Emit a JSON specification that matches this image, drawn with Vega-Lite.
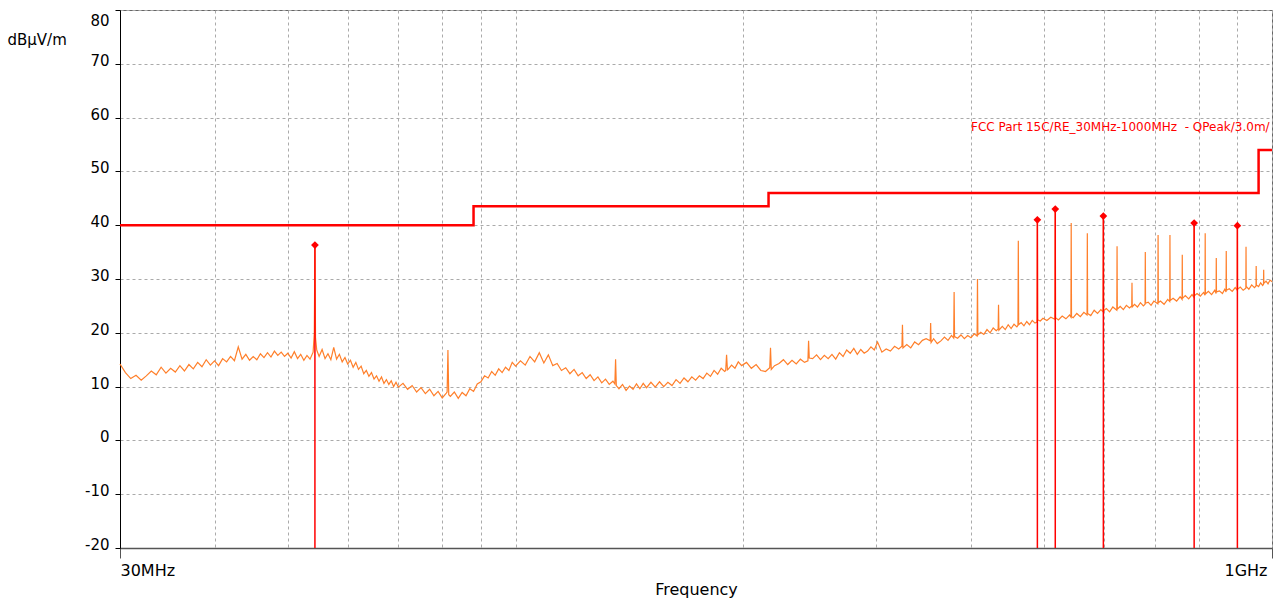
{
  "$schema": "https://vega.github.io/schema/vega-lite/v6.json",
  "width": 1152,
  "height": 538,
  "autosize": {"type": "none"},
  "padding": {"left": 120, "top": 10, "right": 8, "bottom": 51},
  "background": "white",
  "config": {"font": "DejaVu Sans", "view": {"stroke": "#666", "strokeWidth": 1}},
  "datasets": {
    "noise": [
      {"f":30,"v":14.2},{"f":30.5,"v":12.6},{"f":31,"v":11.5},{"f":31.5,"v":12.1},{"f":32,"v":11.2},{"f":32.5,"v":12.0},{"f":33,"v":12.9},{"f":33.5,"v":12.2},{"f":34,"v":13.6},{"f":34.5,"v":12.5},{"f":35,"v":13.4},{"f":35.5,"v":12.7},{"f":36,"v":13.9},{"f":36.5,"v":12.9},{"f":37,"v":14.1},{"f":37.5,"v":13.3},{"f":38,"v":14.5},{"f":38.5,"v":13.7},{"f":39,"v":15.0},{"f":39.5,"v":14.0},{"f":40,"v":14.8},{"f":40.5,"v":13.9},{"f":41,"v":15.2},{"f":41.5,"v":14.6},{"f":42,"v":15.6},{"f":42.5,"v":14.8},{"f":43,"v":17.4},{"f":43.5,"v":15.1},{"f":44,"v":16.0},{"f":44.5,"v":14.9},{"f":45,"v":15.6},{"f":45.5,"v":15.0},{"f":46,"v":16.1},{"f":46.5,"v":15.4},{"f":47,"v":16.3},{"f":47.5,"v":15.5},{"f":48,"v":16.6},{"f":48.5,"v":15.8},{"f":49,"v":16.4},{"f":49.5,"v":15.6},{"f":50,"v":16.2},
      {"f":50.5,"v":15.3},{"f":51,"v":16.5},{"f":51.5,"v":15.2},{"f":52,"v":16.0},{"f":52.5,"v":14.9},{"f":53,"v":15.8},{"f":53.5,"v":15.1},{"f":54,"v":16.4},{"f":54.2,"v":20.0},{"f":54.3,"v":36.0},{"f":54.4,"v":19.0},{"f":54.6,"v":16.8},{"f":55,"v":15.6},{"f":55.5,"v":16.9},{"f":56,"v":15.2},{"f":56.5,"v":16.1},{"f":57,"v":15.0},{"f":57.5,"v":17.3},{"f":58,"v":15.1},{"f":58.5,"v":16.0},{"f":59,"v":14.6},{"f":59.5,"v":15.4},{"f":60,"v":14.2},{"f":60.5,"v":14.9},{"f":61,"v":13.6},{"f":61.5,"v":14.5},{"f":62,"v":13.2},{"f":62.5,"v":13.8},{"f":63,"v":12.4},{"f":63.5,"v":13.0},{"f":64,"v":11.9},{"f":64.5,"v":12.6},{"f":65,"v":11.4},{"f":65.5,"v":12.0},{"f":66,"v":11.0},{"f":66.5,"v":11.8},{"f":67,"v":10.6},{"f":67.5,"v":11.3},{"f":68,"v":10.4},{"f":68.5,"v":11.1},{"f":69,"v":10.0},{"f":69.5,"v":10.8},{"f":70,"v":9.9},
      {"f":71,"v":10.6},{"f":72,"v":9.5},{"f":73,"v":10.2},{"f":74,"v":9.0},{"f":75,"v":9.8},{"f":76,"v":8.7},{"f":77,"v":9.5},{"f":78,"v":8.3},{"f":79,"v":9.1},{"f":80,"v":7.9},{"f":81,"v":8.8},{"f":81.2,"v":9.0},{"f":81.4,"v":16.8},{"f":81.6,"v":8.5},{"f":82,"v":8.2},{"f":83,"v":9.0},{"f":84,"v":7.8},{"f":85,"v":8.9},{"f":86,"v":8.3},{"f":87,"v":9.6},{"f":88,"v":9.1},{"f":89,"v":10.5},{"f":90,"v":10.9},{"f":91,"v":12.0},{"f":92,"v":11.6},{"f":93,"v":12.8},{"f":94,"v":12.1},{"f":95,"v":13.3},{"f":96,"v":12.6},{"f":97,"v":13.6},{"f":98,"v":13.0},{"f":99,"v":14.5},{"f":100,"v":13.8},
      {"f":101.5,"v":14.8},{"f":103,"v":14.0},{"f":104.5,"v":15.6},{"f":106,"v":14.6},{"f":107.5,"v":16.3},{"f":109,"v":14.4},{"f":110.5,"v":15.9},{"f":112,"v":13.9},{"f":113.5,"v":14.3},{"f":115,"v":13.0},{"f":116.5,"v":13.5},{"f":118,"v":12.4},{"f":119.5,"v":13.2},{"f":121,"v":12.0},{"f":122.5,"v":12.6},{"f":124,"v":11.5},{"f":125.5,"v":12.2},{"f":127,"v":11.1},{"f":128.5,"v":11.8},{"f":130,"v":10.7},{"f":131.5,"v":11.4},{"f":133,"v":10.4},{"f":134.5,"v":11.0},{"f":135.3,"v":10.5},{"f":135.6,"v":15.1},{"f":135.9,"v":10.2},{"f":137,"v":9.6},{"f":138.5,"v":10.4},{"f":140,"v":9.3},{"f":141.5,"v":10.1},{"f":143,"v":9.5},{"f":144.5,"v":10.5},{"f":146,"v":9.6},{"f":147.5,"v":10.6},{"f":149,"v":9.8},
      {"f":151,"v":10.8},{"f":153,"v":9.9},{"f":155,"v":10.9},{"f":157,"v":10.0},{"f":159,"v":10.8},{"f":161,"v":10.2},{"f":163,"v":11.3},{"f":165,"v":10.6},{"f":167,"v":11.6},{"f":169,"v":10.9},{"f":171,"v":11.8},{"f":173,"v":11.2},{"f":175,"v":12.0},{"f":177,"v":11.5},{"f":179,"v":12.5},{"f":181,"v":11.9},{"f":183,"v":13.0},{"f":185,"v":12.3},{"f":187,"v":13.4},{"f":189,"v":12.8},{"f":189.6,"v":13.0},{"f":190.1,"v":15.9},{"f":190.6,"v":13.1},{"f":191,"v":13.2},{"f":193,"v":14.0},{"f":195,"v":13.4},{"f":197,"v":14.6},{"f":199,"v":13.9},
      {"f":202,"v":14.5},{"f":205,"v":13.4},{"f":208,"v":14.1},{"f":211,"v":13.0},{"f":214,"v":12.8},{"f":216.8,"v":13.5},{"f":217.3,"v":17.2},{"f":217.8,"v":13.2},{"f":220,"v":13.9},{"f":223,"v":14.3},{"f":226,"v":15.0},{"f":229,"v":14.1},{"f":232,"v":14.9},{"f":235,"v":14.2},{"f":238,"v":15.1},{"f":241,"v":14.5},{"f":243.5,"v":14.8},{"f":244,"v":18.5},{"f":244.5,"v":15.3},{"f":247,"v":15.2},{"f":250,"v":15.9},{"f":253,"v":15.0},{"f":256,"v":15.8},{"f":259,"v":15.2},{"f":262,"v":16.0},{"f":265,"v":15.1},{"f":268,"v":16.3},{"f":271,"v":15.6},{"f":274,"v":16.8},{"f":277,"v":16.2},{"f":280,"v":17.1},{"f":283,"v":16.0},{"f":286,"v":16.9},{"f":289,"v":16.2},{"f":292,"v":16.6},{"f":295,"v":17.4},{"f":298,"v":16.8},{"f":301,"v":18.3},
      {"f":305,"v":16.4},{"f":309,"v":17.0},{"f":313,"v":16.6},{"f":317,"v":17.5},{"f":321,"v":17.0},{"f":324.2,"v":17.5},{"f":324.7,"v":21.5},{"f":325.2,"v":17.2},{"f":329,"v":17.8},{"f":333,"v":17.2},{"f":337,"v":18.3},{"f":341,"v":17.8},{"f":345,"v":18.6},{"f":349,"v":18.9},{"f":353.3,"v":18.5},{"f":353.8,"v":21.8},{"f":354.3,"v":18.2},{"f":357,"v":18.9},{"f":361,"v":18.0},{"f":365,"v":18.5},{"f":369,"v":19.2},{"f":373,"v":18.6},{"f":377,"v":19.5},{"f":379.5,"v":19.0},{"f":380,"v":27.6},{"f":380.5,"v":19.3},{"f":384,"v":19.0},{"f":388,"v":19.6},{"f":392,"v":18.9},{"f":396,"v":19.5},{"f":400,"v":19.1},{"f":404,"v":19.8},{"f":407.5,"v":19.4},{"f":408,"v":30.0},{"f":408.5,"v":19.6},{"f":412,"v":20.1},{"f":416,"v":19.7},{"f":420,"v":20.6},{"f":424,"v":20.0},{"f":428,"v":20.9},{"f":432,"v":20.4},{"f":434.5,"v":20.7},{"f":435,"v":25.2},{"f":435.5,"v":20.5},{"f":440,"v":21.2},{"f":444,"v":20.6},{"f":448,"v":21.5},{"f":452,"v":20.8},{"f":456,"v":21.6},{"f":460,"v":21.1},{"f":461.5,"v":21.4},{"f":462,"v":37.1},{"f":462.5,"v":21.5},{"f":466,"v":21.9},{"f":470,"v":21.3},{"f":474,"v":22.1},{"f":478,"v":21.5},{"f":482,"v":22.3},{"f":486,"v":21.8},{"f":489.1,"v":22.0},{"f":489.6,"v":41.0},{"f":490.1,"v":22.4},{"f":494,"v":22.2},{"f":498,"v":22.7},
      {"f":504,"v":22.3},{"f":510,"v":22.9},{"f":516.5,"v":22.5},{"f":517,"v":43.0},{"f":517.5,"v":22.8},{"f":522,"v":22.4},{"f":528,"v":23.1},{"f":534,"v":22.6},{"f":540,"v":23.3},{"f":542.2,"v":22.9},{"f":542.7,"v":40.4},{"f":543.2,"v":23.0},{"f":546,"v":22.8},{"f":552,"v":23.6},{"f":558,"v":23.0},{"f":564,"v":23.8},{"f":569.5,"v":23.3},{"f":570,"v":38.5},{"f":570.5,"v":23.6},{"f":576,"v":23.2},{"f":582,"v":24.2},{"f":588,"v":23.6},{"f":594,"v":24.3},{"f":598,"v":23.9},{"f":598.5,"v":41.7},{"f":599,"v":24.1},{"f":604,"v":24.5},{"f":610,"v":23.9},{"f":616,"v":24.8},{"f":623.5,"v":24.2},{"f":624,"v":36.1},{"f":624.5,"v":24.4},{"f":630,"v":24.9},{"f":636,"v":24.3},{"f":642,"v":25.1},{"f":648,"v":24.6},{"f":652.5,"v":25.0},{"f":653,"v":29.3},{"f":653.5,"v":24.8},{"f":658,"v":25.3},{"f":664,"v":24.8},{"f":670,"v":25.6},{"f":676,"v":25.0},{"f":679.5,"v":25.3},{"f":680,"v":35.0},{"f":680.5,"v":25.5},{"f":686,"v":25.7},{"f":692,"v":25.1},{"f":698,"v":25.9},
      {"f":706.5,"v":25.4},{"f":707,"v":38.2},{"f":707.5,"v":25.6},{"f":712,"v":25.9},{"f":720,"v":25.3},{"f":728,"v":26.2},{"f":732.5,"v":25.8},{"f":733,"v":38.2},{"f":733.5,"v":26.0},{"f":740,"v":26.4},{"f":748,"v":25.9},{"f":756,"v":26.7},{"f":760.5,"v":26.2},{"f":761,"v":34.5},{"f":761.5,"v":26.4},{"f":768,"v":26.9},{"f":776,"v":26.3},{"f":784,"v":27.1},{"f":788.5,"v":26.6},{"f":789,"v":40.4},{"f":789.5,"v":26.9},{"f":796,"v":27.3},{"f":804,"v":26.8},{"f":812,"v":27.5},{"f":815.5,"v":27.0},{"f":816,"v":38.5},{"f":816.5,"v":27.2},{"f":824,"v":27.7},{"f":832,"v":27.1},{"f":840,"v":27.9},{"f":843.5,"v":27.3},{"f":844,"v":33.9},{"f":844.5,"v":27.6},{"f":852,"v":27.8},{"f":860,"v":27.3},{"f":866,"v":28.1},{"f":869.5,"v":27.6},{"f":870,"v":35.2},{"f":870.5,"v":27.9},{"f":878,"v":28.2},{"f":886,"v":27.7},{"f":894,"v":28.4},{"f":899.5,"v":27.9},{"f":900,"v":39.9},{"f":900.5,"v":28.1},{"f":908,"v":28.5},{"f":916,"v":27.9},{"f":923.5,"v":28.3},{"f":924,"v":36.0},{"f":924.5,"v":28.6},{"f":932,"v":28.1},{"f":940,"v":28.9},{"f":948,"v":28.4},{"f":952.5,"v":28.7},{"f":953,"v":32.4},{"f":953.5,"v":28.9},{"f":960,"v":28.6},{"f":966,"v":29.3},{"f":972,"v":28.8},{"f":974.5,"v":29.0},{"f":975,"v":31.7},{"f":975.5,"v":29.2},{"f":982,"v":29.6},{"f":988,"v":29.1},{"f":994,"v":29.8},{"f":1000,"v":29.5}
    ],
    "limit": [
      {"f":30,"v":40},{"f":88,"v":43.5},{"f":216,"v":46},{"f":960,"v":54},{"f":1000,"v":54}
    ],
    "markers": [
      {"f":54.3,"v":36.3},{"f":489.6,"v":41.0},{"f":517,"v":43.0},{"f":598.5,"v":41.7},{"f":789,"v":40.4},{"f":900,"v":39.9}
    ],
    "label": [
      {"f":400,"v":57.5,"t":"FCC Part 15C/RE_30MHz-1000MHz\u00a0 - QPeak/3.0m/"}
    ]
  },
  "encoding": {
    "x": {
      "field": "f", "type": "quantitative",
      "scale": {"type": "log", "domain": [30, 1000], "nice": false},
      "axis": {
        "title": "Frequency", "titleFontSize": 16, "titleFontWeight": "normal", "titleColor": "#000",
        "titleBaseline": "alphabetic", "titleY": 46,
        "values": [30,40,50,60,70,80,90,100,200,300,400,500,600,700,800,900,1000],
        "labelExpr": "datum.value == 30 ? '30MHz' : datum.value == 1000 ? '1GHz' : ''",
        "labelFontSize": 16, "labelColor": "#000", "labelPadding": 4, "labelOverlap": false, "labelFlush": true,
        "labelOffset": {"condition": {"test": "datum.value == 1000", "value": -5}, "value": 0},
        "tickSize": 10,
        "tickColor": {"condition": {"test": "datum.value == 30 || datum.value == 1000", "value": "#555"}, "value": "transparent"},
        "domainColor": "#555", "domainWidth": 1.5,
        "gridColor": "#aaa", "gridDash": [3, 3]
      }
    },
    "y": {
      "field": "v", "type": "quantitative",
      "scale": {"domain": [-20, 80], "nice": false, "zero": false},
      "axis": {
        "title": "dBμV/m", "titleAngle": 0, "titleAlign": "left", "titleBaseline": "alphabetic",
        "titleX": -113, "titleY": 34, "titleFontSize": 15, "titleFontWeight": "normal", "titleColor": "#000",
        "values": [-20,-10,0,10,20,30,40,50,60,70,80],
        "labelExpr": "datum.value < 0 ? '-' + abs(datum.value) : '' + datum.value",
        "labelFontSize": 15, "labelColor": "#000", "labelBaseline": "alphabetic",
        "labelOffset": {"condition": {"test": "datum.value == 80", "value": 15}, "value": 1.5},
        "labelPadding": 6, "labelFlush": false, "labelOverlap": false,
        "tickSize": 5, "tickColor": "#000", "domainColor": "#000",
        "gridColor": "#aaa", "gridDash": [3, 3]
      }
    }
  },
  "layer": [
    {"data": {"name": "noise"}, "mark": {"type": "line", "color": "#ff7f2a", "strokeWidth": 1.2}},
    {"data": {"name": "limit"}, "mark": {"type": "line", "color": "#ff0000", "strokeWidth": 2.5, "interpolate": "step-after"}},
    {"data": {"name": "markers"}, "mark": {"type": "rule", "color": "#ff0000", "strokeWidth": 1.5}, "encoding": {"y2": {"datum": -20}}},
    {"data": {"name": "markers"}, "mark": {"type": "point", "shape": "diamond", "filled": true, "color": "#ff0000", "size": 60, "opacity": 1}},
    {"data": {"name": "label"},
     "mark": {"type": "text", "align": "left", "baseline": "alphabetic", "fontSize": 12, "color": "#ff0000"},
     "encoding": {"text": {"field": "t"}}}
  ]
}
